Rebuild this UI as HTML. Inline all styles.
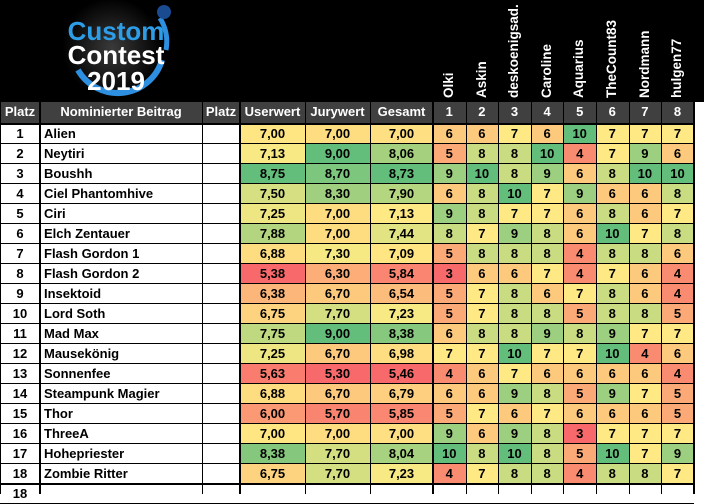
<!DOCTYPE html><html><head><meta charset="utf-8"><style>
body{margin:0;width:704px;height:494px;overflow:hidden;background:#fff;font-family:"Liberation Sans",Arial,sans-serif;}
#top{position:absolute;left:0;top:0;width:704px;height:102px;background:#000;}
.c{position:absolute;box-sizing:border-box;font-size:13px;font-weight:bold;line-height:19px;text-align:center;color:#000;}
.h{background:#404040;color:#fff;font-size:13px;line-height:20px;}
.vl{position:absolute;background:#000;}
.rot{position:absolute;color:#fff;font-weight:bold;font-size:13.5px;transform-origin:0 0;transform:rotate(-90deg);white-space:nowrap;}
</style></head><body>
<div id="top"></div>
<svg style="position:absolute;left:40px;top:0" width="160" height="102">
<defs><radialGradient id="g" cx="50%" cy="50%" r="50%"><stop offset="0" stop-color="#3a3a3a"/><stop offset="1" stop-color="#000"/></radialGradient></defs>
<circle cx="72" cy="48" r="50" fill="url(#g)"/>
<path d="M38 70 A46 46 0 0 0 122 60" stroke="#2e8fe0" stroke-width="6" fill="none"/>
<path d="M120 18 A46 46 0 0 1 126 50" stroke="#2e8fe0" stroke-width="5" fill="none"/>
<circle cx="124" cy="12" r="7" fill="#1a4a90"/>
<text x="76" y="40" font-family="Liberation Sans" font-weight="bold" font-size="26" fill="#2e9de8" text-anchor="middle">Custom</text>
<text x="76" y="64" font-family="Liberation Sans" font-weight="bold" font-size="26" fill="#fff" text-anchor="middle">Contest</text>
<text x="76" y="90" font-family="Liberation Sans" font-weight="bold" font-size="26" fill="#fff" text-anchor="middle">2019</text>
</svg>
<div id="t"></div>
<script>
var d=[["Alien","7,00","7,00","7,00",[6,6,7,6,10,7,7,7]],["Neytiri","7,13","9,00","8,06",[5,8,8,10,4,7,9,6]],["Boushh","8,75","8,70","8,73",[9,10,8,9,6,8,10,10]],["Ciel Phantomhive","7,50","8,30","7,90",[6,8,10,7,9,6,6,8]],["Ciri","7,25","7,00","7,13",[9,8,7,7,6,8,6,7]],["Elch Zentauer","7,88","7,00","7,44",[8,7,9,8,6,10,7,8]],["Flash Gordon 1","6,88","7,30","7,09",[5,8,8,8,4,8,8,6]],["Flash Gordon 2","5,38","6,30","5,84",[3,6,6,7,4,7,6,4]],["Insektoid","6,38","6,70","6,54",[5,7,8,6,7,8,6,4]],["Lord Soth","6,75","7,70","7,23",[5,7,8,8,5,8,8,5]],["Mad Max","7,75","9,00","8,38",[6,8,8,9,8,9,7,7]],["Mausekönig","7,25","6,70","6,98",[7,7,10,7,7,10,4,6]],["Sonnenfee","5,63","5,30","5,46",[4,6,7,6,6,6,6,4]],["Steampunk Magier","6,88","6,70","6,79",[6,6,9,8,5,9,7,5]],["Thor","6,00","5,70","5,85",[5,7,6,7,6,6,6,5]],["ThreeA","7,00","7,00","7,00",[9,6,9,8,3,7,7,7]],["Hohepriester","8,38","7,70","8,04",[10,8,10,8,5,10,7,9]],["Zombie Ritter","6,75","7,70","7,23",[4,7,8,8,4,8,8,7]]];
var vc={3:"#f8696b",4:"#f98b71",5:"#fbaa77",6:"#fdc97d",7:"#ffe984",8:"#c9dc81",9:"#9ccf7f",10:"#63be7b"};
function lerp(a,b,t){return a.map(function(x,i){return Math.round(x+(b[i]-x)*t)})}
var R=[248,105,107],Y=[255,235,132],G=[99,190,123];
function sc(v,mn,m,mx){var c;if(v<=m)c=lerp(R,Y,(v-mn)/(m-mn));else c=lerp(Y,G,(v-m)/(mx-m));return "rgb("+c+")";}
var X=[0,40,202,240,305,370,433];for(var i=1;i<=8;i++)X.push(433+32.6*i);
var h="";
function cell(x,y,w,hh,txt,bg,cls,al){h+='<div class="c '+(cls||"")+'" style="left:'+x+'px;top:'+y+'px;width:'+w+'px;height:'+hh+'px;'+(bg?'background:'+bg+';':'')+(al?'text-align:left;padding-left:4px;':'')+'">'+txt+'</div>';}
var hd=["Platz","Nominierter Beitrag","Platz","Userwert","Jurywert","Gesamt","1","2","3","4","5","6","7","8"];
for(var i=0;i<14;i++)cell(X[i],102,X[i+1]-X[i],21,hd[i],null,"h");
cell(X[14],102,704-X[14],21,"","#fff");
var names=["Olki","Askin","deskoenigsad.","Caroline","Aquarius","TheCount83","Nordmann","hulgen77"];
for(var i=0;i<8;i++){h+='<div class="rot" style="left:'+(X[6+i]+8)+'px;top:98px">'+names[i]+'</div>';}
var rng=[[5.38,7.06,8.75],[5.3,7.2,9.0],[5.46,7.15,8.73]];
for(var r=0;r<18;r++){var y=124+r*20,e=d[r];
cell(X[0],y,40,20,r+1);cell(X[1],y,162,20,e[0],null,"",1);cell(X[2],y,38,20,"");
for(var k=0;k<3;k++){var v=parseFloat(e[1+k].replace(",","."));cell(X[3+k],y,X[4+k]-X[3+k],20,e[1+k],sc(v,rng[k][0],rng[k][1],rng[k][2]));}
for(var k=0;k<8;k++)cell(X[6+k],y,X[7+k]-X[6+k],20,e[4][k],vc[e[4][k]]);}
cell(0,484,40,10,"18");
for(var r=0;r<=19;r++){var y=123+r*20;h+='<div class="vl" style="left:0;top:'+y+'px;width:'+X[14]+'px;height:'+(r==0||r==18?2:1)+'px"></div>';}
for(var i=0;i<=14;i++){var th=(i==1||i==3||i==6||i==14)?2:1;h+='<div class="vl" style="left:'+(Math.round(X[i])-(th>1?1:0))+'px;top:102px;width:'+th+'px;height:392px"></div>';}
document.getElementById("t").innerHTML=h;
</script>
</body></html>
